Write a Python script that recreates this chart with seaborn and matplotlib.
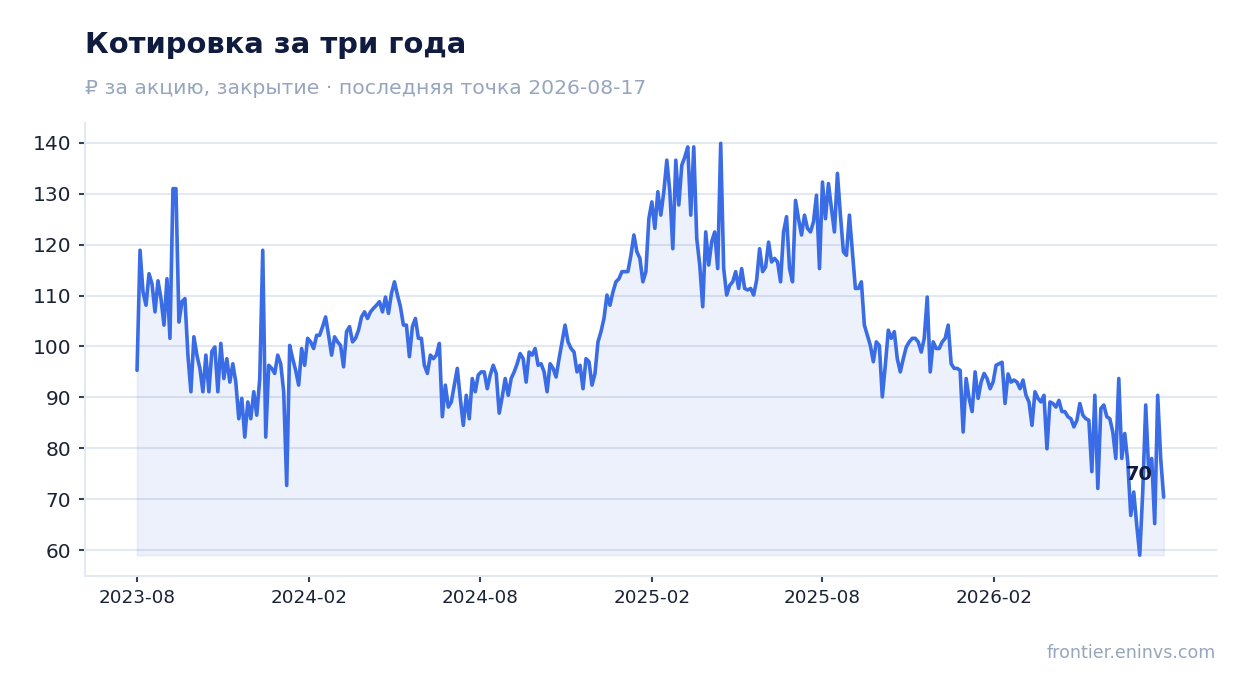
import matplotlib
matplotlib.use("Agg")

import numpy as np
import pandas as pd
import matplotlib.pyplot as plt
import seaborn as sns


FIRST_DAY = "2023-08-17"
LAST_DAY = "2026-08-17"

# closing price, every 3 days
close_2023h2 = [
    95.3, 118.9, 110.7, 108.1, 114.3, 112.3, 106.8, 112.9, 109.4, 104.2,
    113.3, 101.6, 131.0, 131.0, 104.8, 108.8, 109.4, 98.3, 91.1, 101.9,
    98.3, 95.7, 91.1, 98.3, 91.1, 99.0, 99.9, 91.1, 100.6, 93.7,
    97.6, 93.0, 96.6, 93.0, 85.8, 89.8, 82.2, 89.1, 85.8, 91.1,
    86.5, 93.7, 118.9, 82.2, 96.3, 95.7, 94.7, 98.3, 96.6, 91.1,
    72.7, 100.2, 97.6, 95.3, 92.4, 99.6, 96.3, 101.6,
]
close_2024h1 = [
    100.9, 99.6, 102.2, 102.2, 103.9, 105.8, 102.2, 98.3, 101.9, 100.9,
    100.2, 96.0, 102.9, 103.9, 100.9, 101.6, 103.2, 105.8, 106.8, 105.5,
    106.8, 107.5, 108.1, 108.8, 106.8, 109.7, 106.5, 110.4, 112.7, 110.1,
    107.8, 104.2, 104.2, 98.0, 103.9, 105.5, 101.6, 101.6, 96.3, 94.7,
    98.3, 97.6, 98.3, 100.6, 86.2, 92.4, 88.1, 89.1, 92.4, 95.7,
    89.8, 84.5, 90.4, 85.8, 93.7, 91.1, 94.4,
]
close_2024h2 = [
    95.0, 95.0, 91.7, 94.4, 96.3, 94.7, 86.9, 90.1, 93.7, 90.4,
    93.7, 95.0, 96.6, 98.6, 97.6, 93.0, 98.9, 98.3, 99.6, 96.3,
    96.6, 95.0, 91.1, 96.6, 95.7, 94.0, 97.6, 100.9, 104.2, 100.9,
    99.6, 98.9, 95.0, 96.3, 91.7, 97.6, 97.0, 92.4, 94.7, 100.9,
    102.9, 105.5, 110.1, 108.1, 110.7, 112.7, 113.3, 114.7, 114.7, 114.7,
    117.9, 121.9, 118.6, 117.3, 112.7, 114.7, 125.1,
]
close_2025h1 = [
    128.4, 123.2, 130.4, 125.8, 130.4, 136.6, 130.4, 119.2, 136.6, 127.8,
    135.6, 137.2, 139.2, 125.8, 139.2, 121.2, 116.0, 107.8, 122.5, 116.0,
    120.6, 122.5, 115.3, 139.9, 115.3, 110.1, 112.0, 112.7, 114.7, 111.4,
    115.3, 111.4, 111.1, 111.4, 110.1, 113.0, 119.2, 114.7, 115.6, 120.5,
    116.6, 117.3, 116.6, 112.7, 122.5, 125.5, 115.3, 112.7, 128.7, 125.1,
    121.9, 125.8, 123.2, 122.5, 124.5, 129.7,
]
close_2025h2 = [
    115.3, 132.3, 125.1, 132.0, 127.1, 122.5, 134.0, 125.8, 118.6, 117.9,
    125.8, 118.6, 111.4, 111.4, 112.7, 104.2, 102.2, 100.2, 97.0, 100.9,
    100.2, 90.1, 96.3, 103.2, 101.6, 102.9, 97.6, 95.0, 97.6, 99.9,
    100.9, 101.6, 101.6, 100.9, 98.9, 101.6, 109.7, 95.0, 100.9, 99.6,
    99.6, 100.9, 101.6, 104.2, 96.6, 95.7, 95.7, 95.3, 83.2, 93.7,
    89.8, 87.2, 95.0, 89.8, 93.0, 94.7, 93.7,
]
close_2026 = [
    91.7, 93.0, 96.3, 96.6, 96.9, 88.8, 94.6, 93.0, 93.4, 93.0,
    91.7, 93.4, 90.4, 89.1, 84.5, 91.1, 89.8, 89.1, 90.4, 79.9,
    89.1, 88.8, 88.1, 89.4, 87.2, 87.2, 86.2, 85.8, 84.2, 85.5,
    88.8, 86.5, 85.8, 85.5, 75.4, 90.4, 72.1, 87.8, 88.5, 86.2,
    85.8, 83.2, 78.0, 93.7, 78.0, 82.9, 77.3, 66.8, 71.4, 64.9,
    59.0, 71.4, 88.5, 75.4, 78.0, 65.2, 90.4, 78.0, 70.4,
]

tick_days = ["2023-08-17", "2024-02-17", "2024-08-17",
             "2025-02-17", "2025-08-17", "2026-02-17"]
tick_labels = ["2023-08", "2024-02", "2024-08", "2025-02", "2025-08", "2026-02"]
y_ticks = [60, 70, 80, 90, 100, 110, 120, 130, 140]

TITLE = "Котировка за три года"
SUBTITLE = "₽ за акцию, закрытие · последняя точка 2026-08-17"
SOURCE = "frontier.eninvs.com"

LINE = "#3a6ce5"
NAVY = "#0f1c3f"
MUTED = "#97a6bd"
GRID = "#e3e8f1"

close = np.array(close_2023h2 + close_2024h1 + close_2024h2
                 + close_2025h1 + close_2025h2 + close_2026)
df = pd.DataFrame({
    "date": pd.date_range(FIRST_DAY, LAST_DAY, periods=len(close)),
    "close": close,
})

sns.set_theme(style="white")
plt.rcParams["font.family"] = ["DejaVu Sans"]

fig = plt.figure(figsize=(12.47, 6.93), dpi=100)
ax = fig.add_axes([0.0682, 0.1688, 0.9078, 0.6537])

ax.fill_between(df["date"], df["close"], df["close"].min(),
                facecolor=LINE, alpha=0.09, edgecolor=LINE, linewidth=1.2, zorder=1)
sns.lineplot(data=df, x="date", y="close", color=LINE, linewidth=2.6, ax=ax, zorder=3)

start = pd.Timestamp(FIRST_DAY)
ax.set_xlim(start - pd.Timedelta(days=55.5), start + pd.Timedelta(days=1153))
ax.set_ylim(54.9, 143.9)
ax.set_xticks(pd.to_datetime(tick_days))
ax.set_xticklabels(tick_labels)
ax.set_yticks(y_ticks)
ax.set_xlabel("")
ax.set_ylabel("")

ax.grid(axis="y", color=GRID, linewidth=1.5, zorder=0)
ax.grid(axis="x", visible=False)
ax.set_axisbelow(True)
for side in ["top", "right"]:
    ax.spines[side].set_visible(False)
for side in ["left", "bottom"]:
    ax.spines[side].set_color(GRID)
    ax.spines[side].set_linewidth(1.5)

ax.tick_params(axis="y", labelsize=14.5, colors="#334155", labelcolor="#1a2236",
               length=4, width=1.5, pad=6, left=True)
ax.tick_params(axis="x", labelsize=13.2, colors="#334155", labelcolor="#1a2236",
               length=4.5, width=1.5, pad=5, bottom=True)

last = df.iloc[-1]
ax.annotate(f"{last['close']:.0f}", xy=(last["date"], last["close"]),
            xytext=(-24, 23), textcoords="offset pixels",
            ha="center", va="center", fontsize=14, fontweight="bold",
            color=NAVY, zorder=5)

fig.text(0.068, 0.9235, TITLE, fontsize=20.9, fontweight="bold",
         color=NAVY, ha="left", va="baseline")
fig.text(0.068, 0.8644, SUBTITLE, fontsize=14.65, color=MUTED,
         ha="left", va="baseline")
fig.text(0.975, 0.0505, SOURCE, fontsize=12.6, color=MUTED,
         ha="right", va="baseline")

fig.savefig("out.png", dpi=100)
plt.close(fig)
